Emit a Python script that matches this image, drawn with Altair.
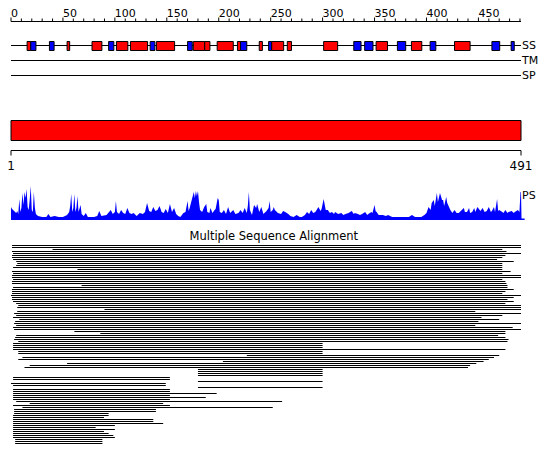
import altair as alt
import pandas as pd

FONT = "DejaVu Sans"
RED = "#FF0000"
BLUE = "#0000FF"

# ---------------- data ----------------
seq_len = 491
ruler_major = [0, 50, 100, 150, 200, 250, 300, 350, 400, 450]
ruler_minor = [v for v in range(0, 491, 10) if v % 50 != 0]

# secondary structure elements (H = helix red, E = strand blue)
ss_start = [15.5, 19, 37, 54, 78, 94, 101.5, 115, 134, 140, 170, 175.5, 186.5, 198.5, 218, 221, 239, 248, 251, 266, 301, 330, 340.5, 351.5, 372, 385.5, 403.5, 427, 463, 481.5]
ss_end   = [19, 24, 41.5, 56.5, 87.5, 99, 112.5, 131.5, 138.5, 157.5, 174.5, 186.5, 191.5, 214, 221, 227, 242, 251, 262.5, 270, 314.5, 337, 348.5, 362.5, 380, 395.5, 409, 442, 470.5, 484.5]
ss_type  = ["H", "E", "E", "H", "H", "E", "H", "H", "E", "H", "E", "H", "H", "H", "H", "E",
            "H", "E", "H", "H", "H", "E", "E", "H", "E", "H", "E", "H", "E", "E"]

track_names = ["SS", "TM", "SP"]

end_pos = [0, 491]
end_labels = ["1", "491"]

# PS profile (residue position, height)
ps_pos = [0, 1, 3, 5, 6, 7, 8, 9, 10, 11, 12, 13, 14, 15, 16, 17, 18, 19, 20, 21, 22, 23, 24, 26, 30, 34, 36, 38, 42, 46,
          50, 54, 56, 57, 58, 59, 60, 61, 62, 63, 64, 65, 67, 68, 70, 72, 74, 80, 83, 85, 87, 92, 96, 98, 100, 101, 102, 104, 106, 108,
          110, 112, 114, 116, 118, 121, 124, 127, 129, 131, 133, 135, 137, 139, 141, 143, 145, 147, 149, 151, 153, 155, 157, 159, 161, 163, 166, 168, 170, 171,
          172, 174, 175, 176, 177, 178, 179, 180, 181, 182, 184, 186, 188, 189, 191, 192, 194, 196, 197, 199, 200, 201, 203, 205, 207, 209, 211, 214, 216, 219,
          221, 223, 225, 227, 228, 229, 230, 232, 234, 236, 237, 239, 241, 243, 246, 248, 249, 250, 252, 253,
          254, 257, 260, 262, 264, 267, 269, 272, 275, 278, 280, 283, 285, 287, 289, 291, 293, 296, 298, 299, 301, 303, 305, 307, 309, 311, 312, 315, 318, 320,
          322, 325, 328, 330, 331, 334, 336, 338, 341, 343, 344, 347, 348, 350, 351, 352, 354, 358, 361, 363, 367, 370, 376, 383, 386, 389, 395, 398, 400, 402,
          404, 405, 407, 408, 410, 411, 413, 415, 416, 417, 419, 420, 423, 425, 427, 429, 431, 434, 436, 437, 439, 441, 442, 444, 446, 447, 449, 452, 454, 456,
          458, 460, 462, 463, 465, 466, 468, 469, 470, 473, 474, 476, 478, 479, 482, 484, 485, 488, 489.5, 490.5, 491, 491.5, 494.5]
ps_val = [13, 11, 9, 7, 9, 6, 21, 8, 12, 27, 15, 28, 22, 31, 13, 10, 20, 34, 10, 8, 28, 12, 6, 4, 3, 3, 6, 3, 4, 3,
          3, 5, 8, 14, 26, 8, 12, 26, 8, 12, 24, 8, 15, 6, 4, 7, 3, 3, 4, 9, 4, 5, 10, 6, 8, 19, 8, 6, 10, 7,
          6, 12, 7, 6, 7, 4, 7, 6, 8, 17, 9, 8, 13, 9, 10, 14, 8, 7, 11, 7, 16, 8, 12, 6, 4, 3, 7, 8, 19, 9,
          12, 20, 24, 28, 22, 29, 24, 29, 18, 10, 8, 13, 16, 8, 7, 12, 7, 10, 11, 22, 20, 8, 7, 10, 6, 13, 7, 10, 6, 7,
          10, 7, 12, 7, 14, 28, 10, 5, 15, 12, 16, 8, 13, 6, 9, 12, 19, 8, 10, 13,
          10, 7, 6, 9, 8, 6, 4, 3, 5, 3, 3, 5, 8, 6, 10, 7, 8, 13, 9, 11, 21, 10, 10, 7, 8, 6, 8, 6, 7, 5,
          6, 7, 9, 6, 7, 6, 5, 6, 8, 5, 6, 8, 7, 15, 9, 8, 5, 5, 4, 5, 3, 3, 3, 3, 5, 3, 3, 5, 7, 13,
          10, 17, 20, 14, 27, 18, 27, 20, 20, 14, 23, 17, 10, 7, 10, 7, 7, 10, 12, 8, 8, 12, 7, 8, 12, 8, 13, 9, 12, 8,
          9, 13, 8, 9, 13, 8, 21, 9, 10, 8, 7, 10, 7, 8, 9, 7, 8, 10, 8, 28, 28, 1.5, 1.5]

# multiple sequence alignment: one row per aligned sequence (start, end residue)
msa_start = [1, 1, 40, 1, 2, 1, 1, 2, 5, 6, 5, 2, 64, 1, 2, 1, 1, 2, 1, 1,
             68, 2, 1, 1, 1, 0, 1, 1, 2, 5, 7, 6, 90, 6, 3, 5, 2, 8, 4, 3,
             5, 2, 3, 61, 86, 5, 4, 3,
             7, 2, 2, 2, 2, 7, 7, 227, 11, 7, 204, 54, 18, 13, 180, 180, 180, 180, 2, 2,
             180, 0, 2, 180, 2, 2, 2, 2, 2, 2, 5, 18, 2, 11, 3, 3, 3, 2, 2, 2,
             2, 2, 2, 2, 2, 2, 2, 2, 2, 4, 4, 4]
msa_end = [491, 491, 473, 477, 491, 476, 473, 468, 484, 473, 473, 473, 473, 481, 473, 491, 491, 473, 476, 477,
           478, 478, 484, 476, 473, 491, 484, 478, 484, 476, 491, 491, 491, 447, 491, 473, 453, 470, 450, 491,
           447, 483, 491, 476, 476, 469, 476, 479,
           478, 300, 300, 300, 476, 300, 300, 470, 465, 460, 455, 448, 442, 440, 300, 300, 300, 300, 153, 153,
           300, 149, 149, 300, 153, 153, 198, 153, 187.5, 153, 261, 146.5, 153, 252, 139.5, 139.5, 94, 94, 89.5, 137,
           137, 146.5, 100, 81.5, 100, 89.5, 94, 98.5, 100, 88, 88, 88]

# ---------------- tables ----------------
ss_df = pd.DataFrame({"start": ss_start, "end": ss_end, "type": ss_type})
ps_df = pd.DataFrame({"pos": ps_pos, "h": ps_val})
msa_df = pd.DataFrame({"row": list(range(len(msa_start))), "start": msa_start, "end": msa_end})
span_df = pd.DataFrame({"a": [0], "b": [seq_len]})
ends_df = pd.DataFrame({"pos": end_pos, "label": end_labels})
major_df = pd.DataFrame({"v": ruler_major, "label": [str(v) for v in ruler_major]})
minor_df = pd.DataFrame({"v": ruler_minor})
tracks_y = {"SS": 30.5, "TM": 45.5, "SP": 60.5}
RULER_Y = 6.5

xs = alt.Scale(domain=[0, seq_len], nice=False, zero=False)
hidden_axis = alt.Axis(labels=False, ticks=False, domain=False, grid=False, title=None)


def X(field, axis=None):
    return alt.X(field, type="quantitative", scale=xs, axis=axis)


layers = []

# top ruler (the main line carries an invisible axis)
layers.append(
    alt.Chart(span_df).mark_rule(color="black", strokeWidth=1).encode(
        x=X("a", hidden_axis), x2="b", y=alt.value(RULER_Y)
    )
)
layers.append(
    alt.Chart(minor_df).mark_rule(color="black", strokeWidth=1).encode(
        x=X("v"), y=alt.value(RULER_Y - 3), y2=alt.value(RULER_Y)
    )
)
layers.append(
    alt.Chart(major_df).mark_rule(color="black", strokeWidth=1).encode(
        x=X("v"), y=alt.value(RULER_Y - 4), y2=alt.value(RULER_Y)
    )
)
layers.append(
    alt.Chart(major_df).mark_text(
        font=FONT, fontSize=11, align="left", baseline="alphabetic", color="black"
    ).encode(x=X("v"), y=alt.value(RULER_Y - 5), text="label:N")
)

# track lines
for name in track_names:
    layers.append(
        alt.Chart(span_df).mark_rule(color="black", strokeWidth=1).encode(
            x=X("a"), x2="b", y=alt.value(tracks_y[name])
        )
    )

# SS elements
layers.append(
    alt.Chart(ss_df).mark_rect(stroke="black", strokeWidth=1).encode(
        x=X("start"), x2="end",
        y=alt.value(26.5), y2=alt.value(35.5),
        fill=alt.Fill("type:N", scale=alt.Scale(domain=["H", "E"], range=[RED, BLUE]), legend=None),
    )
)

# track labels
for name in track_names:
    layers.append(
        alt.Chart(pd.DataFrame({"t": [name]})).mark_text(
            font=FONT, fontSize=11, align="left", baseline="middle", dx=1, color="black"
        ).encode(x=alt.datum(seq_len), y=alt.value(tracks_y[name]), text="t:N")
    )

# domain bar
layers.append(
    alt.Chart(span_df).mark_rect(fill=RED, stroke="black", strokeWidth=1).encode(
        x=X("a"), x2="b", y=alt.value(105.5), y2=alt.value(125.5)
    )
)

# bottom ruler
layers.append(
    alt.Chart(span_df).mark_rule(color="black", strokeWidth=1).encode(
        x=X("a"), x2="b", y=alt.value(135.5)
    )
)
layers.append(
    alt.Chart(ends_df).mark_rule(color="black", strokeWidth=1).encode(
        x=X("pos"), y=alt.value(135.5), y2=alt.value(140.5)
    )
)
layers.append(
    alt.Chart(ends_df).mark_text(
        font=FONT, fontSize=12, align="center", baseline="alphabetic", color="black"
    ).encode(x=X("pos"), y=alt.value(155), text="label:N")
)

# PS profile
layers.append(
    alt.Chart(ps_df).mark_area(color=BLUE, interpolate="linear").encode(
        x=X("pos"),
        y=alt.Y("h:Q", scale=alt.Scale(domain=[0, 34], range=[205, 171], nice=False), axis=None),
    )
)
layers.append(
    alt.Chart(pd.DataFrame({"t": ["PS"]})).mark_text(
        font=FONT, fontSize=11, align="left", baseline="middle", dx=1, color="black"
    ).encode(x=alt.datum(seq_len), y=alt.value(181), text="t:N")
)

# MSA title
layers.append(
    alt.Chart(pd.DataFrame({"t": ["Multiple Sequence Alignment"]})).mark_text(
        font=FONT, fontSize=11.5, align="center", baseline="alphabetic", color="black"
    ).encode(x=alt.datum(253), y=alt.value(225), text="t:N")
)

# MSA rows
layers.append(
    alt.Chart(msa_df).mark_rule(color="black", strokeWidth=1).encode(
        x=X("start"), x2="end",
        y=alt.Y("row:Q", scale=alt.Scale(domain=[0, len(msa_start) - 1], range=[230.5, 428.5],
                                         nice=False, zero=False), axis=None),
    )
)

chart = alt.layer(*layers).resolve_scale(y="independent").properties(
    width=510, height=437,
    autosize=alt.AutoSizeParams(type="none"),
    padding={"left": 3, "top": 7, "right": 20, "bottom": 3},
).configure_view(stroke=None)

chart.save("out.html", embed_options={"renderer": "svg", "actions": False})
